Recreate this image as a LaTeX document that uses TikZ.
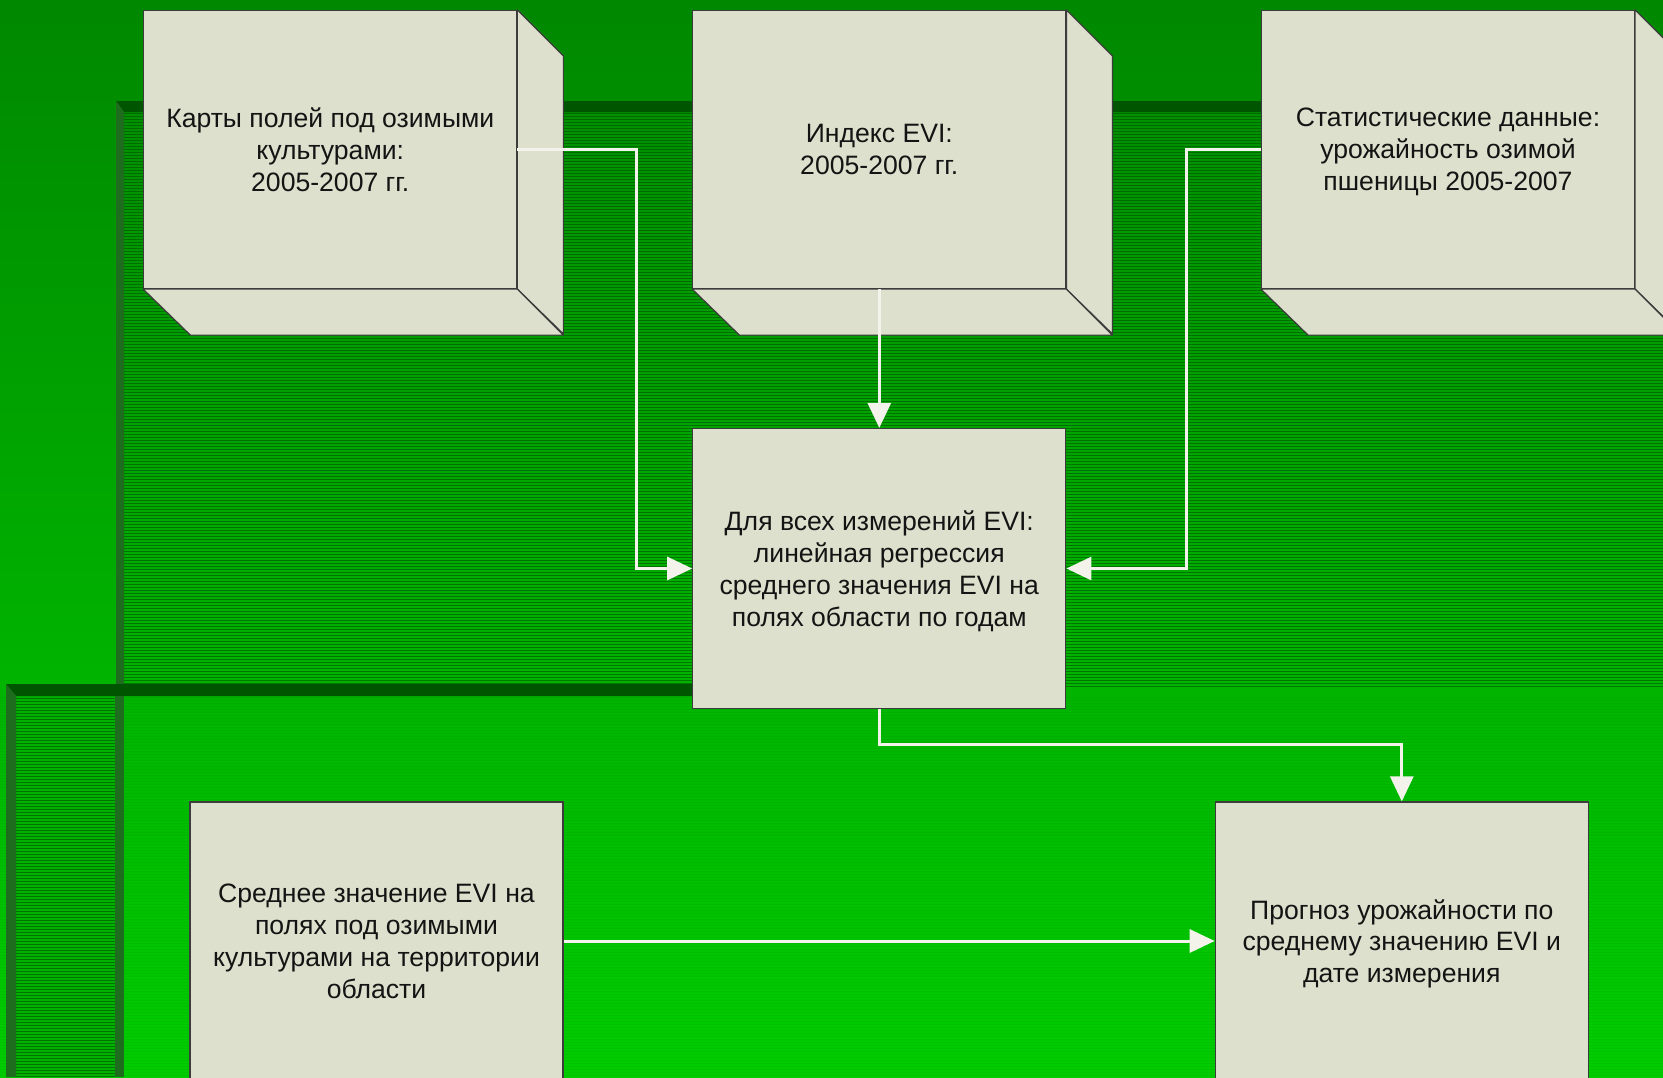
\documentclass[tikz,border=0pt]{standalone}
\usepackage{fontspec}
\setmainfont{Liberation Sans}
\usetikzlibrary{arrows.meta}
\definecolor{bgtop}{RGB}{0,136,0}
\definecolor{bgbot}{RGB}{0,205,0}
\definecolor{stripec}{RGB}{0,80,0}
\definecolor{darkbar}{RGB}{0,85,0}
\definecolor{bevel}{RGB}{30,108,30}
\definecolor{boxfill}{RGB}{221,224,204}
\definecolor{boxline}{RGB}{60,60,60}
\definecolor{arrowc}{RGB}{243,243,235}
\definecolor{txt}{RGB}{20,20,20}
\tikzset{
  box/.style={draw=boxline, fill=boxfill, line width=1.2pt, rectangle, inner sep=0pt,
    minimum width=373pt, minimum height=278pt, align=center, text=txt, text depth=0pt,
    font=\fontsize{26.6}{31.8}\selectfont},
  face/.style={draw=boxline, fill=boxfill, line width=1.2pt, line join=round},
  arr/.style={draw=arrowc, line width=3pt, line join=miter,
    -{Triangle[length=25pt,width=23pt]}},
  stripe/.style={draw=stripec, line width=1pt, opacity=0.6},
  faint/.style={draw=stripec, line width=1pt, opacity=0.07}
}
\begin{document}
\begin{tikzpicture}[x=1pt,y=-1pt]
\clip (0,0) rectangle (1663,1077);
\useasboundingbox (0,0) rectangle (1663,1077);
% background
\shade[top color=bgtop, bottom color=bgbot] (0,0) rectangle (1663,1077);
\foreach \yy in {697.5,700.5,...,1077} \draw[faint] (0,\yy) -- (1663,\yy);
% upper striped band
\foreach \yy in {113.5,116.5,...,689} \draw[stripe] (124,\yy) -- (1663,\yy);
\fill[darkbar] (116,101) -- (1663,101) -- (1663,112) -- (124,112) -- cycle;
\fill[bevel] (116,101) -- (124,112) -- (124,690) -- (116,690) -- cycle;
% lower left vertical band
\fill[bgtop!40!bgbot] (16,696) rectangle (115,1077);
\foreach \yy in {698.5,701.5,...,1077} \draw[stripe] (16,\yy) -- (115,\yy);
\fill[darkbar] (6,684) -- (820,684) -- (820,696) -- (16,696) -- cycle;
\fill[bevel] (6,684) -- (16,696) -- (16,1077) -- (6,1077) -- cycle;
\fill[bevel] (115,696) -- (124,696) -- (124,1077) -- (115,1077) -- cycle;

% 3D boxes
\node[box] (A) at (330.25,149.5) {Карты полей под озимыми\\культурами:\\2005-2007 гг.};
\node[box] (B) at (879.3,149.5) {Индекс EVI:\\2005-2007 гг.};
\node[box] (C) at (1448,149.5) {Статистические данные:\\урожайность озимой\\пшеницы 2005-2007};
\foreach \n in {A,B,C}{
  \path[face] (\n.north east) -- ++(46,46) -- ++(0,278) -- (\n.south east) -- cycle;
  \path[face] (\n.south west) -- (\n.south east) -- ++(46,46) -- ++(-373,0) -- cycle;
}
% flat boxes
\node[box, minimum height=280pt] (D) at (879.3,568.5) {Для всех измерений EVI:\\линейная регрессия\\среднего значения EVI на\\полях области по годам};
\node[box] (E) at (376.5,941) {Среднее значение EVI на\\полях под озимыми\\культурами на территории\\области};
\node[box] (F) at (1401.8,941) {Прогноз урожайности по\\среднему значению EVI и\\дате измерения};

% connectors
\draw[arr] (A.east) -- ++(119.5,0) |- (D.west);
\draw[arr] (B.south) -- (D.north);
\draw[arr] (C.west) -- ++(-74.5,0) |- (D.east);
\draw[arr] (D.south) -- ++(0,35) -| (F.north);
\draw[arr] (E.east) -- (F.west);
\end{tikzpicture}
\end{document}
